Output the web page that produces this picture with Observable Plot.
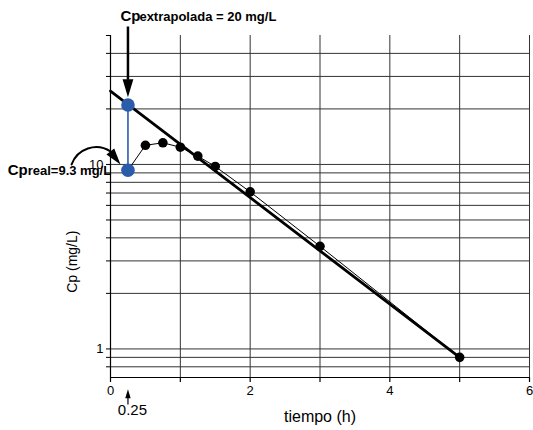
<!DOCTYPE html>
<html>
<head>
<meta charset="utf-8">
<script src="https://cdn.jsdelivr.net/npm/d3@7"></script>
<script src="https://cdn.jsdelivr.net/npm/@observablehq/plot@0.6"></script>
<style>
  body { margin: 0; background: #fff; }
  svg { font-family: "Liberation Sans", Arial, sans-serif; }
</style>
</head>
<body>
<div id="chart"></div>
<script>
// ---- data ----
const tiempo = [0.5, 0.75, 1, 1.25, 1.5, 2, 3, 5];
const cp = [12.7, 13.1, 12.4, 11.1, 9.75, 7.1, 3.6, 0.9];
const tBlue = [0.25, 0.25];
const cpBlue = [9.3, 21];            // Cp real, Cp extrapolada
const lineaT = [0, 5];
const lineaCp = [25, 0.9];           // extrapolated straight line
const xTicks = [0, 1, 2, 3, 4, 5, 6];
const xLabels = [0, 2, 4, 6];
const yTicks = [0.8, 0.9, 1, 2, 3, 4, 5, 6, 7, 8, 9, 10, 20, 30, 40, 50];
const yGrid = [0.8, 0.9, 1, 2, 3, 4, 5, 6, 7, 8, 9, 10, 20, 30, 40];
const yLabels = [1, 10];

// annotation anchors (data units)
const annTop = [{x: 0.143, y: 59.9, t: "Cp", s: 15}, {x: 0.414, y: 59.9, t: "extrapolada = 20 mg/L", s: 13}];
const annReal = [{x: -1.471, y: 8.72, t: "Cp", s: 15}, {x: -1.186, y: 8.72, t: "real=9.3 mg/L", s: 13}];
const topArrow = {x: 0.25, y1: 55.6, y2: 28.6, tip: 23.1};
const curveArrow = {x1: -0.557, y1: 10, x2: 0, y2: 11.77, tipX: 0.143, tipY: 10};
const smallArrow = {x: 0.25, y1: 0.496, y2: 0.542, tip: 0.604};
const label025 = {x: 0.314, y: 0.441, t: "0.25"};
const xTitle = {x: 3, y: 0.40, t: "tiempo (h)"};
const yTitle = {x: -0.543, y: 2.97, t: "Cp (mg/L)"};

const blue = "#2a5caa";

// ---- build tables ----
const observed = tiempo.map((t, i) => ({t, cp: cp[i]}));
const thin = [{t: tBlue[0], cp: cpBlue[0]}, ...observed];
const bluePts = tBlue.map((t, i) => ({t, cp: cpBlue[i]}));
const linea = lineaT.map((t, i) => ({t, cp: lineaCp[i]}));

const headSymbol = {
  draw(context, size) {
    const r = Math.sqrt(size / Math.PI);
    context.moveTo(0, 0);
    context.lineTo(0.9 * r, 3 * r);
    context.lineTo(-0.9 * r, 3 * r);
    context.closePath();
  }
};

const plot = Plot.plot({
  width: 533,
  height: 430,
  marginLeft: 110,
  marginRight: 4,
  marginTop: 35,
  marginBottom: 53,
  style: {fontFamily: "'Liberation Sans', Arial, sans-serif", fontSize: "13px", color: "#000", background: "#fff", overflow: "visible"},
  x: {domain: [0, 6]},
  y: {type: "log", domain: [0.7, 50]},
  marks: [
    Plot.ruleX(xTicks.slice(1), {stroke: "#333", strokeWidth: 1}),
    Plot.ruleY(yGrid, {stroke: "#333", strokeWidth: 1}),
    Plot.ruleX([0], {stroke: "#000", strokeWidth: 1.2}),
    Plot.ruleY([0.7], {stroke: "#000", strokeWidth: 1.2}),
    Plot.axisX({ticks: xTicks, tickSize: 5, tickPadding: 3, tickFormat: d => xLabels.includes(d) ? String(d) : "", label: null, fontSize: 13, strokeWidth: 1.2}),
    Plot.axisY({ticks: yTicks, tickSize: 4, tickPadding: 3, tickFormat: d => yLabels.includes(d) ? String(d) : "", label: null, fontSize: 13}),
    // data
    Plot.line(linea, {x: "t", y: "cp", stroke: "#000", strokeWidth: 2.8}),
    Plot.line(thin, {x: "t", y: "cp", stroke: "#000", strokeWidth: 1}),
    Plot.ruleX([tBlue[0]], {y1: cpBlue[0], y2: cpBlue[1], stroke: blue, strokeWidth: 1.6}),
    Plot.dot(observed, {x: "t", y: "cp", r: 4.8, fill: "#000"}),
    Plot.dot(bluePts, {x: "t", y: "cp", r: 6.8, fill: blue}),
    // annotations
    Plot.ruleX([topArrow], {x: "x", y1: "y1", y2: "y2", stroke: "#000", strokeWidth: 2.5}),
    Plot.dot([topArrow], {x: "x", y: "tip", symbol: headSymbol, r: 6, fill: "#000", rotate: 180}),
    Plot.arrow([curveArrow], {x1: "x1", y1: "y1", x2: "x2", y2: "y2", bend: 52, headLength: 0, stroke: "#000", strokeWidth: 2}),
    Plot.dot([curveArrow], {x: "tipX", y: "tipY", symbol: headSymbol, r: 5.5, fill: "#000", rotate: 142}),
    Plot.ruleX([smallArrow], {x: "x", y1: "y1", y2: "y2", stroke: "#000", strokeWidth: 1.2}),
    Plot.dot([smallArrow], {x: "x", y: "tip", symbol: headSymbol, r: 3, fill: "#000", rotate: 0}),
    Plot.text(annTop, {x: "x", y: "y", text: "t", fontSize: d => d.s, fontWeight: "bold", textAnchor: "start", lineAnchor: "bottom"}),
    Plot.text(annReal, {x: "x", y: "y", text: "t", fontSize: d => d.s, fontWeight: "bold", textAnchor: "start", lineAnchor: "bottom"}),
    Plot.text([label025], {x: "x", y: "y", text: "t", fontSize: 15, lineAnchor: "bottom"}),
    Plot.text([xTitle], {x: "x", y: "y", text: "t", fontSize: 16, lineAnchor: "bottom"}),
    Plot.text([yTitle], {x: "x", y: "y", text: "t", fontSize: 14, rotate: -90, lineAnchor: "middle"})
  ]
});
document.getElementById("chart").appendChild(plot);
</script>
</body>
</html>
